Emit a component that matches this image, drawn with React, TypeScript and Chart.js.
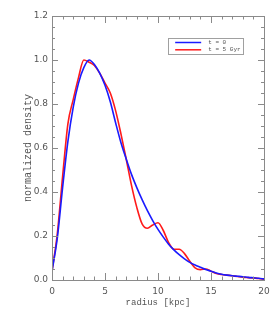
import React, { useEffect, useRef } from "react";
import { Chart, registerables } from "chart.js";

Chart.register(...registerables);

const radius = [0, 0.5, 1, 1.5, 2, 2.5, 3, 3.5, 4, 4.5, 5, 5.5, 6, 6.5, 7, 7.5, 8, 8.5, 9, 9.5, 10, 10.5, 11, 11.5, 12, 12.5, 13, 13.5, 14, 14.5, 15, 15.5, 16, 16.5, 17, 17.5, 18, 18.5, 19, 19.5, 20];

const densityT0 = [0.04, 0.19, 0.42, 0.63, 0.785, 0.895, 0.965, 1.0, 0.98, 0.94, 0.885, 0.81, 0.715, 0.625, 0.55, 0.48, 0.42, 0.365, 0.315, 0.27, 0.23, 0.195, 0.163, 0.137, 0.115, 0.096, 0.08, 0.068, 0.058, 0.048, 0.04, 0.032, 0.026, 0.022, 0.019, 0.017, 0.015, 0.012, 0.01, 0.008, 0.005];

const densityT5 = [0.04, 0.21, 0.47, 0.71, 0.82, 0.92, 1.0, 0.99, 0.975, 0.94, 0.895, 0.85, 0.77, 0.665, 0.55, 0.43, 0.33, 0.255, 0.235, 0.25, 0.26, 0.225, 0.17, 0.14, 0.14, 0.12, 0.085, 0.055, 0.047, 0.05, 0.04, 0.03, 0.025, 0.022, 0.019, 0.016, 0.013, 0.011, 0.009, 0.007, 0.004];

const seriesLabels = ["t = 0", "t = 5 Gyr"];
const seriesColors = ["#1a1aff", "#ff1a1a"];
const xTitle = "radius [kpc]";
const yTitle = "normalized density";

const AXIS_COLOR = "#8a8a8a";
const TEXT_COLOR = "#555555";

const framePlugin = {
  id: "frameTicks",
  afterDraw(chart: any) {
    const ctx = chart.ctx;
    const { left, right, top, bottom } = chart.chartArea;
    const xs = chart.scales.x;
    const ys = chart.scales.y;
    ctx.save();
    ctx.strokeStyle = AXIS_COLOR;
    ctx.lineWidth = 1;
    ctx.strokeRect(Math.round(left) + 0.5, Math.round(top) + 0.5, Math.round(right - left), Math.round(bottom - top));
    ctx.beginPath();
    for (let v = 0; v <= 20; v += 1) {
      const px = Math.round(xs.getPixelForValue(v)) + 0.5;
      const len = v % 5 === 0 ? 7 : 3.5;
      ctx.moveTo(px, bottom);
      ctx.lineTo(px, bottom - len);
      ctx.moveTo(px, top);
      ctx.lineTo(px, top + len);
    }
    for (let i = 0; i <= 24; i++) {
      const v = i * 0.05;
      const py = Math.round(ys.getPixelForValue(v)) + 0.5;
      const len = i % 4 === 0 ? 6 : 3;
      ctx.moveTo(left, py);
      ctx.lineTo(left + len, py);
      ctx.moveTo(right, py);
      ctx.lineTo(right - len, py);
    }
    ctx.stroke();

    // legend
    const lx = left + (right - left) * 0.548;
    const ly = top + 22;
    const lw = 75;
    const lh = 16;
    ctx.strokeStyle = "#a0a0a0";
    ctx.strokeRect(Math.round(lx) + 0.5, Math.round(ly) + 0.5, lw, lh);
    ctx.font = "6px 'Liberation Mono'";
    ctx.textBaseline = "middle";
    ctx.textAlign = "left";
    seriesLabels.forEach((lab, i) => {
      const yy = ly + 4.5 + i * 7.3;
      ctx.strokeStyle = seriesColors[i];
      ctx.lineWidth = 1.5;
      ctx.beginPath();
      ctx.moveTo(lx + 7, yy);
      ctx.lineTo(lx + 33, yy);
      ctx.stroke();
      ctx.fillStyle = TEXT_COLOR;
      ctx.fillText(lab, lx + 40, yy);
    });
    ctx.restore();
  },
};

export default function App() {
  const ref = useRef<HTMLCanvasElement>(null);
  useEffect(() => {
    if (!ref.current) return;
    const chart = new Chart(ref.current, {
      type: "line",
      data: {
        datasets: [
          {
            label: seriesLabels[0],
            data: radius.map((r, i) => ({ x: r, y: densityT0[i] })),
            borderColor: seriesColors[0],
            borderWidth: 1.6,
            pointRadius: 0,
            cubicInterpolationMode: "monotone",
            fill: false,
          },
          {
            label: seriesLabels[1],
            data: radius.map((r, i) => ({ x: r, y: densityT5[i] })),
            borderColor: seriesColors[1],
            borderWidth: 1.6,
            pointRadius: 0,
            cubicInterpolationMode: "monotone",
            fill: false,
          },
        ],
      },
      options: {
        animation: false,
        responsive: false,
        layout: { padding: { left: 0, right: 16, top: 16, bottom: 0 } },
        plugins: { legend: { display: false }, tooltip: { enabled: false } },
        scales: {
          x: {
            type: "linear",
            min: 0,
            max: 20,
            grid: { display: false, drawTicks: false },
            border: { display: false },
            ticks: {
              stepSize: 5,
              padding: 6,
              color: TEXT_COLOR,
              font: { family: "'DejaVu Sans'", size: 9 },
              maxRotation: 0,
            },
            title: {
              display: true,
              text: xTitle,
              color: TEXT_COLOR,
              font: { family: "'Liberation Mono'", size: 9 },
              padding: { top: 2, bottom: 7 },
            },
            afterFit: (s: any) => {
              s.height = 35;
            },
          },
          y: {
            type: "linear",
            min: 0,
            max: 1.2,
            grid: { display: false, drawTicks: false },
            border: { display: false },
            ticks: {
              stepSize: 0.2,
              padding: 4,
              color: TEXT_COLOR,
              font: { family: "'DejaVu Sans'", size: 9 },
              callback: (v: any) => Number(v).toFixed(1),
            },
            title: {
              display: true,
              text: yTitle,
              color: TEXT_COLOR,
              font: { family: "'Liberation Mono'", size: 10 },
              padding: { top: 22, bottom: 0 },
            },
            afterFit: (s: any) => {
              s.width = 52;
            },
          },
        },
      },
      plugins: [framePlugin],
    });
    return () => chart.destroy();
  }, []);
  return (
    <div style={{ position: "fixed", left: 0, top: 0, width: 280, height: 315, background: "#fff" }}>
      <canvas ref={ref} width={280} height={315} style={{ width: 280, height: 315, display: "block" }} />
    </div>
  );
}
